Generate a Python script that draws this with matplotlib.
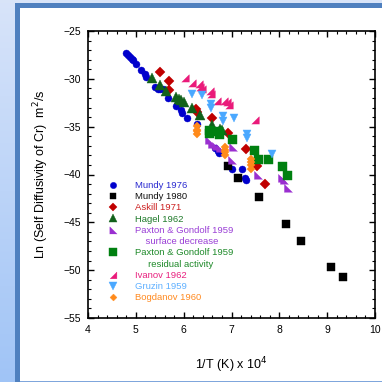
import matplotlib
matplotlib.use("Agg")
import matplotlib.pyplot as plt
import numpy as np
from matplotlib.patches import Rectangle
from matplotlib.lines import Line2D
from matplotlib.ticker import MultipleLocator

plt.rcParams['font.family'] = ['Liberation Sans', 'DejaVu Sans']

# ---------------- data (1/T x 1e4, ln D) ----------------
mundy76_x = [4.79, 4.83, 4.88, 4.92, 4.95, 5.01, 5.11, 5.19, 5.22, 5.40, 5.46, 5.51, 5.56,
             5.67, 5.84, 5.94, 5.97, 6.08, 6.28, 6.66, 6.71, 6.74, 7.01, 7.22, 7.29, 7.31]
mundy76_y = [-27.3, -27.5, -27.7, -27.9, -28.0, -28.5, -29.1, -29.5, -29.8, -30.9, -31.1, -31.1, -31.1,
             -32.0, -32.8, -33.3, -33.6, -34.1, -34.7, -37.2, -37.5, -37.8, -39.4, -39.4, -40.4, -40.6]

mundy80_x = [6.92, 7.13, 7.58, 8.14, 8.45, 9.07, 9.33]
mundy80_y = [-39.1, -40.4, -42.4, -45.2, -47.0, -49.7, -50.7]

askill_x = [5.51, 5.70, 5.70, 6.25, 6.27, 6.60, 6.92, 7.31, 7.53, 7.69]
askill_y = [-29.3, -30.2, -31.2, -33.2, -33.5, -34.1, -35.7, -37.3, -39.1, -41.0]

hagel_x = [5.34, 5.50, 5.64, 5.83, 5.90, 5.95, 6.01, 6.17, 6.35, 6.59, 6.76, 6.80]
hagel_y = [-29.9, -30.6, -31.3, -31.9, -32.1, -32.2, -32.4, -33.1, -33.8, -34.8, -35.2, -35.4]

paxs_x = [6.52, 6.59, 6.68, 6.76, 7.03, 7.01, 7.56, 8.06, 8.09, 8.19]
paxs_y = [-36.4, -36.8, -37.0, -37.2, -37.1, -38.5, -40.1, -40.4, -40.6, -41.4]

paxr_x = [6.53, 6.54, 6.72, 6.74, 7.01, 7.47, 7.56, 7.77, 8.05, 8.15]
paxr_y = [-35.4, -35.7, -35.5, -35.8, -36.3, -37.4, -38.4, -38.4, -39.1, -40.0]

ivanov_x = [6.03, 6.17, 6.33, 6.35, 6.38, 6.56, 6.57, 6.70, 6.84, 6.90, 6.95, 7.49]
ivanov_y = [-29.9, -30.4, -30.5, -30.9, -31.1, -31.3, -31.6, -32.3, -32.3, -32.4, -32.7, -34.3]

gruzin_x = [6.17, 6.38, 6.57, 6.58, 6.82, 6.82, 7.06, 7.32, 7.32, 7.85]
gruzin_y = [-31.6, -31.7, -32.6, -33.1, -33.9, -34.4, -34.1, -35.8, -36.2, -37.9]

bogd_x = [6.28, 6.28, 6.28, 6.28, 6.87, 6.87, 6.87, 6.87, 7.40, 7.40, 7.40, 7.40]
bogd_y = [-34.9, -35.3, -35.5, -35.8, -37.1, -37.4, -37.7, -38.0, -38.4, -38.7, -39.0, -39.4]

xticks = [4, 5, 6, 7, 8, 9, 10]
yticks = [-55, -50, -45, -40, -35, -30, -25]

# ---------------- figure ----------------
W = 382
fig = plt.figure(figsize=(3.82, 3.82), dpi=100, facecolor='white')

def fx(px):
    return px / W

def fy(py):
    return 1 - py / W

# background gradient strip on the left
bg = fig.add_axes([0, 0, fx(15), 1], zorder=-10)
grad = np.linspace(0, 1, 256).reshape(-1, 1)
top_c = np.array([216, 228, 250]) / 255
bot_c = np.array([160, 196, 246]) / 255
img = top_c[None, None, :] * (1 - grad[:, :, None]) + bot_c[None, None, :] * grad[:, :, None]
bg.imshow(img, aspect='auto', extent=[0, 1, 0, 1])
bg.axis('off')

fig.patches.append(Rectangle((0, fy(3)), 1, fx(3), transform=fig.transFigure,
                             facecolor='#d8e4f8', edgecolor='none', zorder=-5))
fig.patches.append(Rectangle((fx(15), 0), fx(5), fy(3), transform=fig.transFigure,
                             facecolor='#4f80bf', edgecolor='none', zorder=-4))
fig.patches.append(Rectangle((fx(15), fy(8)), 1, fx(5), transform=fig.transFigure,
                             facecolor='#4f80bf', edgecolor='none', zorder=-4))
fig.patches.append(Rectangle((fx(20), 0), 1, fx(1.2), transform=fig.transFigure,
                             facecolor='#7fa6dc', edgecolor='none', zorder=-4))

ax = fig.add_axes([fx(88), fy(318), fx(287), fx(287)])
ax.set_xlim(4, 10)
ax.set_ylim(-55, -25)

series = [
    (mundy76_x, mundy76_y, 'o', 7.0, '#0000cc', 'Mundy 1976', '#2a2ad0'),
    (mundy80_x, mundy80_y, 's', 7.4, '#000000', 'Mundy 1980', '#111111'),
    (askill_x, askill_y, 'D', 7.0, '#c00000', 'Askill 1971', '#cc2020'),
    (hagel_x, hagel_y, '^', 9.5, '#11611a', 'Hagel 1962', '#1f7a2a'),
    (paxs_x, paxs_y, [(-1, -1), (-1, 1), (1, -1)], 8.0, '#9a2fd0', 'Paxton & Gondolf 1959', '#9a3fd6'),
    (paxr_x, paxr_y, 's', 9.0, '#008010', 'Paxton & Gondolf 1959', '#1f8a2a'),
    (ivanov_x, ivanov_y, [(1, -1), (1, 1), (-1, -1)], 7.5, '#ea1a7a', 'Ivanov 1962', '#e8207e'),
    (gruzin_x, gruzin_y, 'v', 8.5, '#4aa8ff', 'Gruzin 1959', '#5fb0ff'),
    (bogd_x, bogd_y, 'D', 5.4, '#ff8a1a', 'Bogdanov 1960', '#ff8a20'),
]

for xs, ys, mk, ms_px, col, lab, tcol in series:
    ax.plot(xs, ys, linestyle='none', marker=mk, markersize=ms_px * 0.72,
            markerfacecolor=col, markeredgecolor=col, markeredgewidth=0.3, label=lab)

# legend: rows with continuation lines
blank = Line2D([], [], linestyle='none', marker=None)
leg_h, leg_l, leg_c = [], [], []
for xs, ys, mk, ms_px, col, lab, tcol in series:
    h = Line2D([], [], linestyle='none', marker=mk, markersize=ms_px * 0.72 * 0.9,
               markerfacecolor=col, markeredgecolor=col, markeredgewidth=0.3)
    leg_h.append(h)
    leg_l.append(lab)
    leg_c.append(tcol)
    if col == '#9a2fd0':
        leg_h.append(blank)
        leg_l.append('    surface decrease')
        leg_c.append(tcol)
    if col == '#008010':
        leg_h.append(blank)
        leg_l.append('     residual activity')
        leg_c.append(tcol)

leg = ax.legend(leg_h, leg_l, loc='upper left', bbox_to_anchor=(0.07, 0.478),
                frameon=False, fontsize=6.8, handlelength=1.0, handletextpad=1.8,
                labelspacing=0.24, borderpad=0.0, borderaxespad=0.0)
for t, c in zip(leg.get_texts(), leg_c):
    t.set_color(c)

# ticks
ax.set_xticks(xticks)
ax.set_yticks(yticks)
ax.xaxis.set_minor_locator(MultipleLocator(0.2))
ax.yaxis.set_minor_locator(MultipleLocator(1))
ax.tick_params(which='both', direction='in', top=True, right=True, labelsize=7.5, pad=5)
ax.tick_params(which='major', length=4, width=1.0)
ax.tick_params(which='minor', length=2.2, width=0.8)
for s in ax.spines.values():
    s.set_linewidth(1.2)

ax.set_xlabel('1/T (K) x 10$^4$', fontsize=9, labelpad=15)
ax.set_ylabel('Ln (Self Diffusivity of Cr)  m$^2$/s', fontsize=9, labelpad=9)

fig.savefig('out.png', dpi=100, facecolor='white')
